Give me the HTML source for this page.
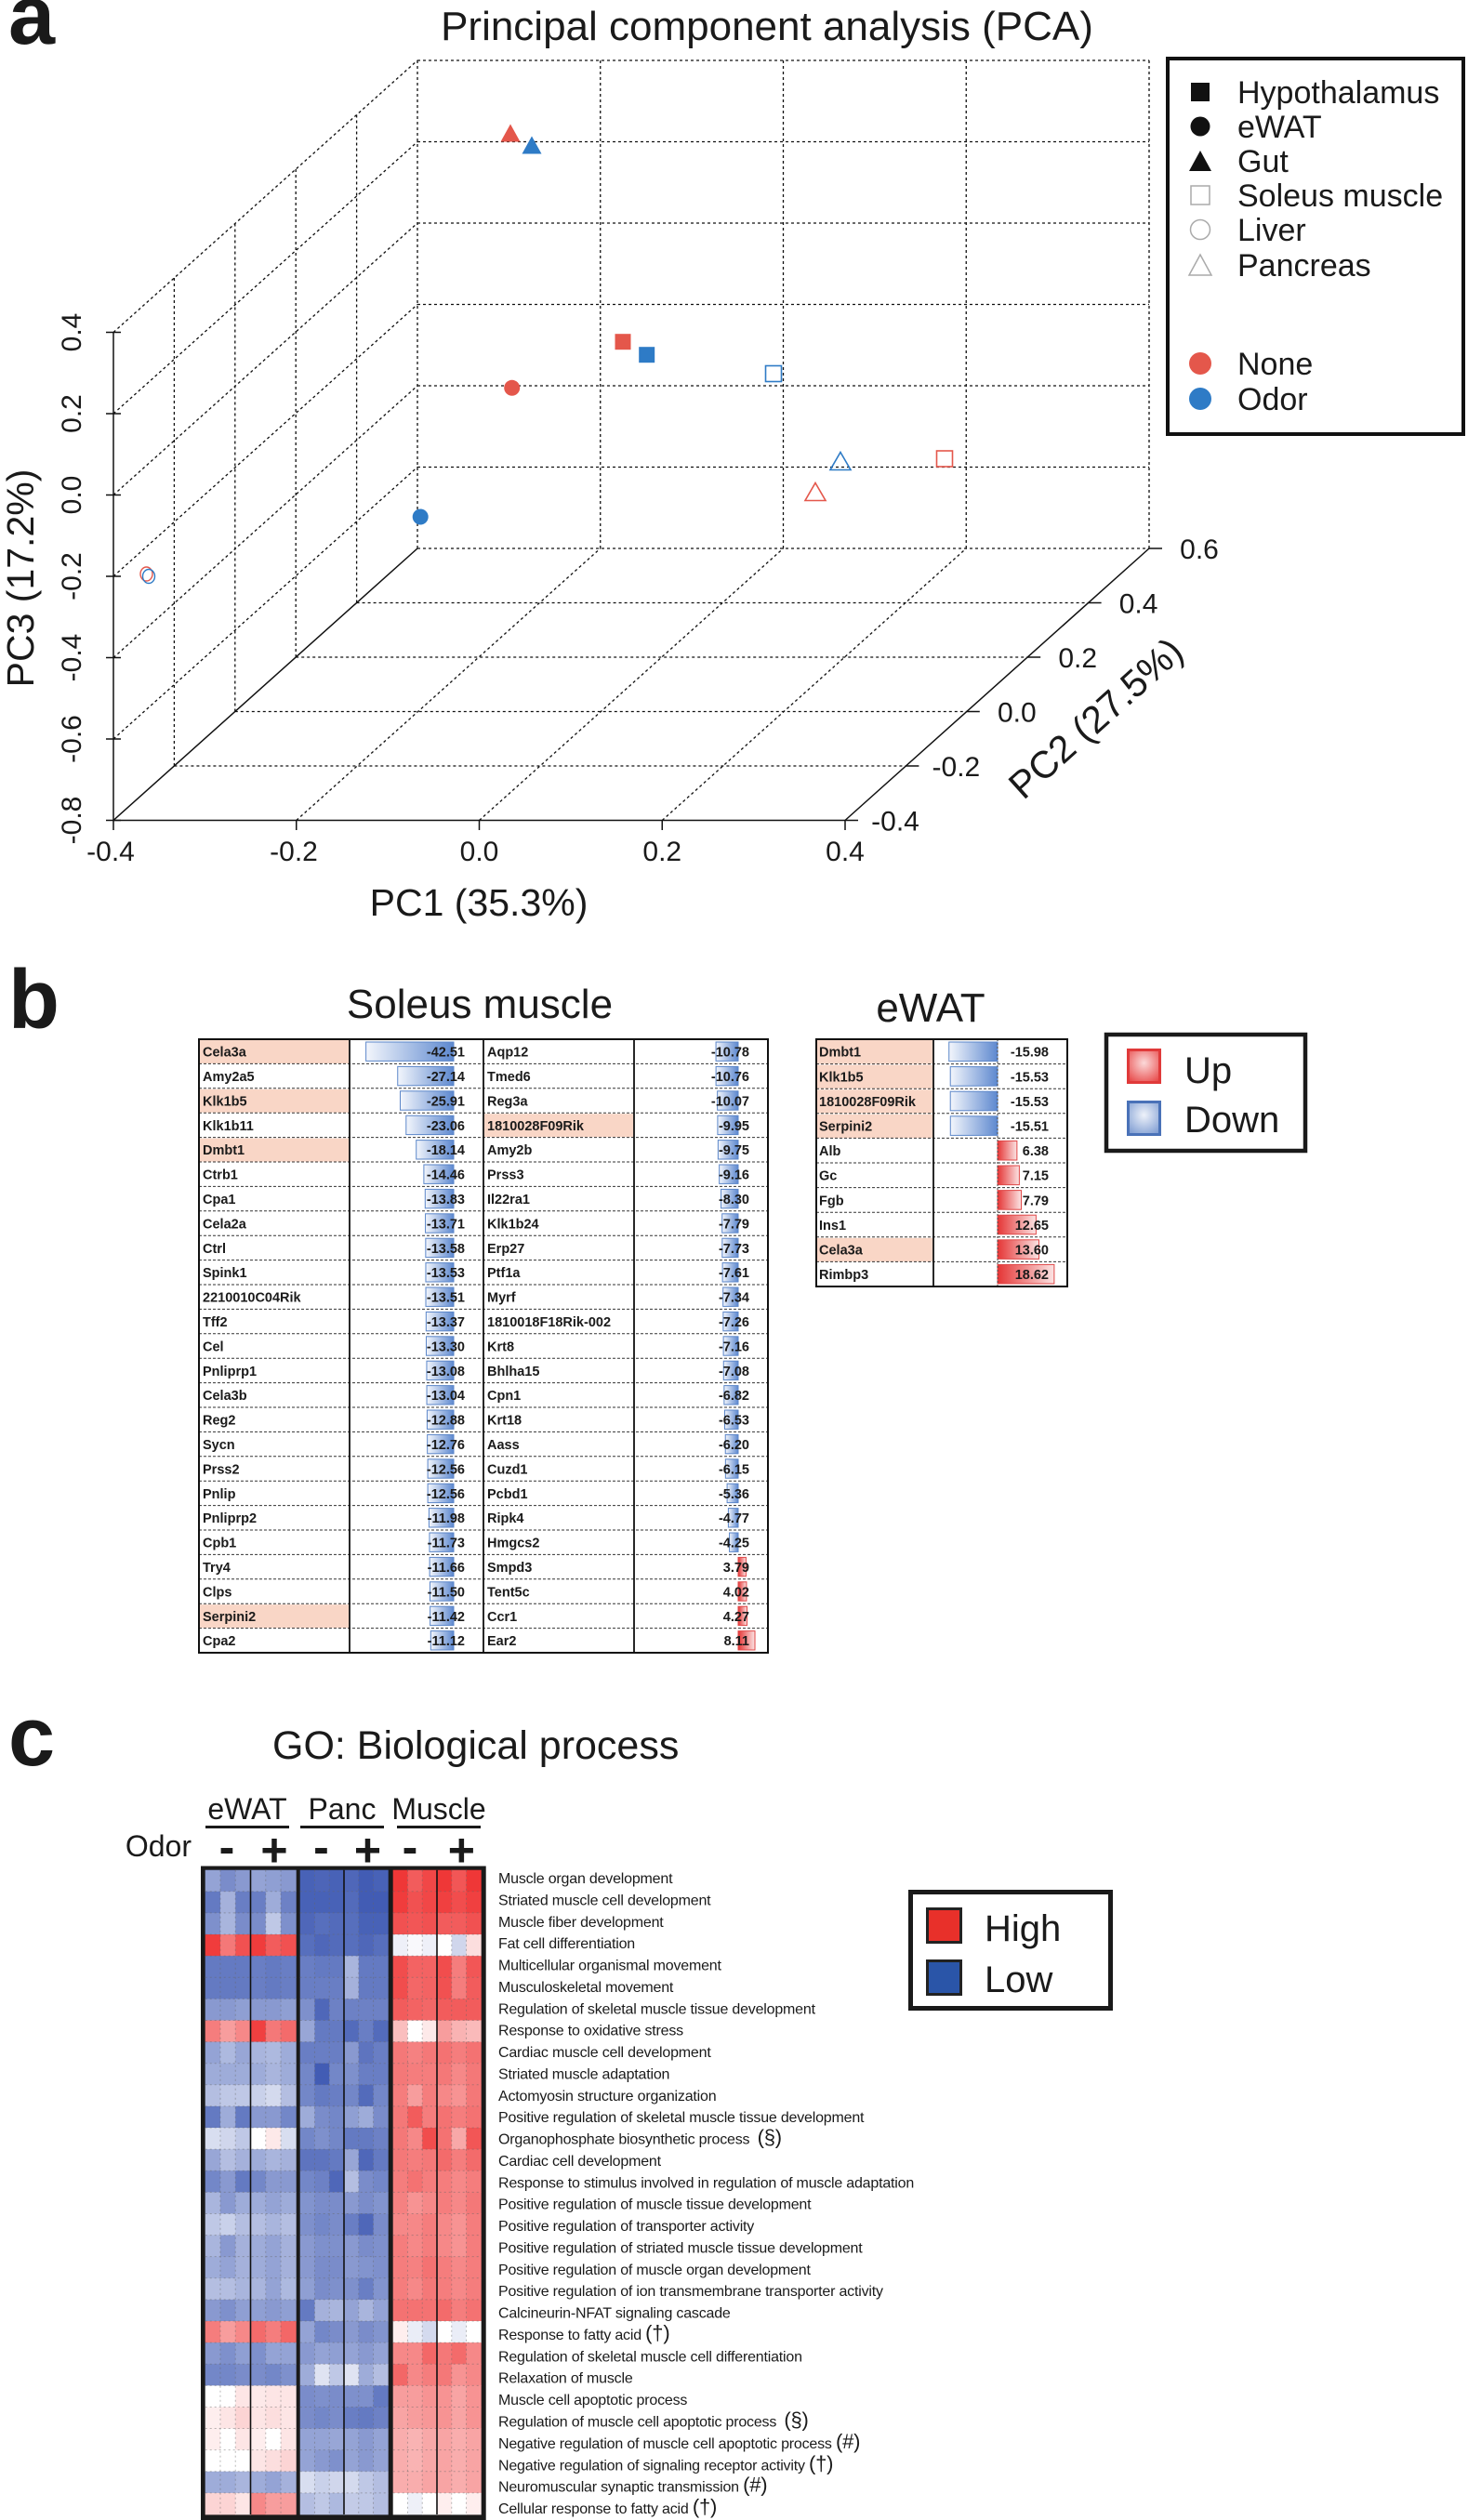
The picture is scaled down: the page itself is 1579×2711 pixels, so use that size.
<!DOCTYPE html>
<html><head><meta charset="utf-8"><style>
html,body{margin:0;padding:0;background:#fff}
svg{display:block}
text{font-family:"Liberation Sans",Arial,sans-serif;fill:#1a1a1a}
.d{stroke:#111;stroke-width:1.3;stroke-dasharray:3 3;fill:none}
.s{stroke:#111;stroke-width:1.5;fill:none}
.tk{font-size:30px}
.tb{font-size:14.5px;font-weight:bold}
.tv{font-size:14.5px;font-weight:bold;text-anchor:end}
.go{font-size:16px;letter-spacing:-0.2px;fill:#222}
.sym{font-size:22px}
</style></head><body>
<svg id="s" xmlns="http://www.w3.org/2000/svg" width="1579" height="2711" viewBox="0 0 1579 2711">
<defs>
<linearGradient id="gB" x1="0" x2="1" y1="0" y2="0"><stop offset="0" stop-color="#f3f6fc"/><stop offset="1" stop-color="#5d88cf"/></linearGradient>
<linearGradient id="gR" x1="0" x2="1" y1="0" y2="0"><stop offset="0" stop-color="#e53535"/><stop offset="1" stop-color="#fbe4e4"/></linearGradient>
<radialGradient id="rR" cx="0.5" cy="0.4" r="0.7"><stop offset="0" stop-color="#fbd9d9"/><stop offset="1" stop-color="#e84a4a"/></radialGradient>
<radialGradient id="rB" cx="0.5" cy="0.4" r="0.7"><stop offset="0" stop-color="#eef2fa"/><stop offset="1" stop-color="#7f9dd2"/></radialGradient>
</defs>
<rect width="1579" height="2711" fill="#fff"/>

<!-- ============ PANEL A ============ -->
<text x="9" y="47" style="font-size:90px;font-weight:bold">a</text>
<text x="825" y="43" text-anchor="middle" style="font-size:44px">Principal component analysis (PCA)</text>

<!-- back wall -->
<line class="d" x1="449" y1="65" x2="449" y2="590"/>
<line class="d" x1="645.75" y1="65" x2="645.75" y2="590"/>
<line class="d" x1="842.5" y1="65" x2="842.5" y2="590"/>
<line class="d" x1="1039.25" y1="65" x2="1039.25" y2="590"/>
<line class="d" x1="1236" y1="65" x2="1236" y2="590"/>
<line class="d" x1="449" y1="65" x2="1236" y2="65"/>
<line class="d" x1="449" y1="152.5" x2="1236" y2="152.5"/>
<line class="d" x1="449" y1="240" x2="1236" y2="240"/>
<line class="d" x1="449" y1="327.5" x2="1236" y2="327.5"/>
<line class="d" x1="449" y1="415" x2="1236" y2="415"/>
<line class="d" x1="449" y1="502.5" x2="1236" y2="502.5"/>
<line class="d" x1="449" y1="590" x2="1236" y2="590"/>
<!-- left wall -->
<line class="d" x1="187.4" y1="824" x2="187.4" y2="299"/>
<line class="d" x1="252.8" y1="765.5" x2="252.8" y2="240.5"/>
<line class="d" x1="318.2" y1="707" x2="318.2" y2="182"/>
<line class="d" x1="383.6" y1="648.5" x2="383.6" y2="123.5"/>
<line class="d" x1="122" y1="795" x2="449" y2="502.5"/>
<line class="d" x1="122" y1="707.5" x2="449" y2="415"/>
<line class="d" x1="122" y1="620" x2="449" y2="327.5"/>
<line class="d" x1="122" y1="532.5" x2="449" y2="240"/>
<line class="d" x1="122" y1="445" x2="449" y2="152.5"/>
<line class="d" x1="122" y1="357.5" x2="449" y2="65"/>
<!-- floor -->
<line class="d" x1="187.4" y1="824" x2="974.4" y2="824"/>
<line class="d" x1="252.8" y1="765.5" x2="1039.8" y2="765.5"/>
<line class="d" x1="318.2" y1="707" x2="1105.2" y2="707"/>
<line class="d" x1="383.6" y1="648.5" x2="1170.6" y2="648.5"/>
<line class="d" x1="318.75" y1="882.5" x2="645.75" y2="590"/>
<line class="d" x1="515.5" y1="882.5" x2="842.5" y2="590"/>
<line class="d" x1="712.25" y1="882.5" x2="1039.25" y2="590"/>
<!-- solid axes -->
<line class="s" x1="122" y1="357.5" x2="122" y2="882.5"/>
<line class="s" x1="122" y1="882.5" x2="909" y2="882.5"/>
<line class="s" x1="122" y1="882.5" x2="449" y2="590"/>
<line class="s" x1="909" y1="882.5" x2="1236" y2="590"/>
<!-- z ticks -->
<g class="s">
<line x1="114" y1="357.5" x2="130" y2="357.5"/><line x1="114" y1="445" x2="130" y2="445"/>
<line x1="114" y1="532.5" x2="130" y2="532.5"/><line x1="114" y1="620" x2="130" y2="620"/>
<line x1="114" y1="707.5" x2="130" y2="707.5"/><line x1="114" y1="795" x2="130" y2="795"/>
<line x1="114" y1="882.5" x2="130" y2="882.5"/>
<line x1="122" y1="882.5" x2="122" y2="893"/><line x1="318.75" y1="882.5" x2="318.75" y2="893"/>
<line x1="515.5" y1="882.5" x2="515.5" y2="893"/><line x1="712.25" y1="882.5" x2="712.25" y2="893"/>
<line x1="909" y1="882.5" x2="909" y2="893"/>
<line x1="909" y1="882.5" x2="923" y2="882.5"/><line x1="974.4" y1="824" x2="988.4" y2="824"/>
<line x1="1039.8" y1="765.5" x2="1053.8" y2="765.5"/><line x1="1105.2" y1="707" x2="1119.2" y2="707"/>
<line x1="1170.6" y1="648.5" x2="1184.6" y2="648.5"/><line x1="1236" y1="590" x2="1250" y2="590"/>
</g>
<!-- z tick labels -->
<g class="tk" text-anchor="middle">
<text transform="translate(87,357.5) rotate(-90)">0.4</text>
<text transform="translate(87,445) rotate(-90)">0.2</text>
<text transform="translate(87,532.5) rotate(-90)">0.0</text>
<text transform="translate(87,620) rotate(-90)">-0.2</text>
<text transform="translate(87,707.5) rotate(-90)">-0.4</text>
<text transform="translate(87,795) rotate(-90)">-0.6</text>
<text transform="translate(87,882.5) rotate(-90)">-0.8</text>
<text x="119" y="926">-0.4</text>
<text x="316" y="926">-0.2</text>
<text x="515.5" y="926">0.0</text>
<text x="712.25" y="926">0.2</text>
<text x="909" y="926">0.4</text>
<text x="963" y="893.5">-0.4</text>
<text x="1028.4" y="835">-0.2</text>
<text x="1093.8" y="776.5">0.0</text>
<text x="1159.2" y="718">0.2</text>
<text x="1224.6" y="659.5">0.4</text>
<text x="1290" y="601">0.6</text>
</g>
<text transform="translate(36,622) rotate(-90)" text-anchor="middle" style="font-size:41px">PC3 (17.2%)</text>
<text x="515" y="985" text-anchor="middle" style="font-size:41px">PC1 (35.3%)</text>
<text transform="translate(1188,783) rotate(-42)" text-anchor="middle" style="font-size:41px">PC2 (27.5%)</text>

<!-- data points -->
<polygon points="549,133.5 559.5,152.5 538.5,152.5" fill="#e4574b"/>
<polygon points="572,146.5 582.5,165.5 561.5,165.5" fill="#2e7bc6"/>
<rect x="661.5" y="359.2" width="17" height="17" fill="#e4574b"/>
<rect x="687.2" y="373.2" width="17" height="17" fill="#2e7bc6"/>
<circle cx="550.7" cy="417.3" r="8.5" fill="#e4574b"/>
<circle cx="452.2" cy="556" r="8.5" fill="#2e7bc6"/>
<rect x="823.5" y="393.5" width="17" height="17" fill="none" stroke="#2e7bc6" stroke-width="1.6"/>
<polygon points="904,486.5 915,505.5 893,505.5" fill="none" stroke="#2e7bc6" stroke-width="1.6"/>
<rect x="1007.5" y="485" width="17" height="17" fill="none" stroke="#e4574b" stroke-width="1.6"/>
<polygon points="877,519.5 888,538.5 866,538.5" fill="none" stroke="#e4574b" stroke-width="1.6"/>
<ellipse cx="157.5" cy="617.5" rx="6.5" ry="7.5" fill="none" stroke="#e4574b" stroke-width="1.4"/>
<ellipse cx="160" cy="620" rx="6.5" ry="7.5" fill="none" stroke="#2e7bc6" stroke-width="1.4"/>

<!-- legend a -->
<rect x="1256" y="63" width="318" height="404" fill="none" stroke="#111" stroke-width="4"/>
<rect x="1281" y="89" width="20" height="20" fill="#111"/>
<circle cx="1291" cy="136" r="10.5" fill="#111"/>
<polygon points="1291,162 1303,184 1279,184" fill="#111"/>
<rect x="1281" y="200" width="20" height="20" fill="none" stroke="#aaa" stroke-width="1.5"/>
<circle cx="1291" cy="247" r="10.5" fill="none" stroke="#aaa" stroke-width="1.5"/>
<polygon points="1291,274 1303,296 1279,296" fill="none" stroke="#aaa" stroke-width="1.5"/>
<circle cx="1291" cy="391" r="12" fill="#e4574b"/>
<circle cx="1291" cy="429" r="12" fill="#2e7bc6"/>
<g style="font-size:34px">
<text x="1331" y="111">Hypothalamus</text>
<text x="1331" y="148">eWAT</text>
<text x="1331" y="185">Gut</text>
<text x="1331" y="222">Soleus muscle</text>
<text x="1331" y="259">Liver</text>
<text x="1331" y="297">Pancreas</text>
<text x="1331" y="403">None</text>
<text x="1331" y="441">Odor</text>
</g>

<!-- ============ PANEL B ============ -->
<text x="9" y="1106" style="font-size:90px;font-weight:bold">b</text>
<text x="516" y="1095" text-anchor="middle" style="font-size:44px">Soleus muscle</text>
<text x="1001" y="1099" text-anchor="middle" style="font-size:44px">eWAT</text>

<!-- highlights -->
<g fill="#f9d6c6">
<rect x="215" y="1119" width="160" height="25"/>
<rect x="215" y="1171.8" width="160" height="25"/>
<rect x="215" y="1224.6" width="160" height="25"/>
<rect x="215" y="1726.2" width="160" height="25"/>
<rect x="521" y="1198.2" width="160" height="25"/>
<rect x="879" y="1119" width="124" height="25.5"/>
<rect x="879" y="1145.6" width="124" height="25.5"/>
<rect x="879" y="1172.2" width="124" height="25.5"/>
<rect x="879" y="1198.8" width="124" height="25.5"/>
<rect x="879" y="1331.8" width="124" height="25.5"/>
</g>
<g id="bars"></g>

<!-- Soleus rows -->
<g transform="translate(0,1118)"><text class="tb" x="218" y="18.6">Cela3a</text><text class="tv" x="500" y="18.6">-42.51</text><text class="tb" x="524" y="18.6">Aqp12</text><text class="tv" x="806" y="18.6">-10.78</text></g>
<g transform="translate(0,1144.4)"><text class="tb" x="218" y="18.6">Amy2a5</text><text class="tv" x="500" y="18.6">-27.14</text><text class="tb" x="524" y="18.6">Tmed6</text><text class="tv" x="806" y="18.6">-10.76</text></g>
<g transform="translate(0,1170.8)"><text class="tb" x="218" y="18.6">Klk1b5</text><text class="tv" x="500" y="18.6">-25.91</text><text class="tb" x="524" y="18.6">Reg3a</text><text class="tv" x="806" y="18.6">-10.07</text></g>
<g transform="translate(0,1197.2)"><text class="tb" x="218" y="18.6">Klk1b11</text><text class="tv" x="500" y="18.6">-23.06</text><text class="tb" x="524" y="18.6">1810028F09Rik</text><text class="tv" x="806" y="18.6">-9.95</text></g>
<g transform="translate(0,1223.6)"><text class="tb" x="218" y="18.6">Dmbt1</text><text class="tv" x="500" y="18.6">-18.14</text><text class="tb" x="524" y="18.6">Amy2b</text><text class="tv" x="806" y="18.6">-9.75</text></g>
<g transform="translate(0,1250)"><text class="tb" x="218" y="18.6">Ctrb1</text><text class="tv" x="500" y="18.6">-14.46</text><text class="tb" x="524" y="18.6">Prss3</text><text class="tv" x="806" y="18.6">-9.16</text></g>
<g transform="translate(0,1276.4)"><text class="tb" x="218" y="18.6">Cpa1</text><text class="tv" x="500" y="18.6">-13.83</text><text class="tb" x="524" y="18.6">Il22ra1</text><text class="tv" x="806" y="18.6">-8.30</text></g>
<g transform="translate(0,1302.8)"><text class="tb" x="218" y="18.6">Cela2a</text><text class="tv" x="500" y="18.6">-13.71</text><text class="tb" x="524" y="18.6">Klk1b24</text><text class="tv" x="806" y="18.6">-7.79</text></g>
<g transform="translate(0,1329.2)"><text class="tb" x="218" y="18.6">Ctrl</text><text class="tv" x="500" y="18.6">-13.58</text><text class="tb" x="524" y="18.6">Erp27</text><text class="tv" x="806" y="18.6">-7.73</text></g>
<g transform="translate(0,1355.6)"><text class="tb" x="218" y="18.6">Spink1</text><text class="tv" x="500" y="18.6">-13.53</text><text class="tb" x="524" y="18.6">Ptf1a</text><text class="tv" x="806" y="18.6">-7.61</text></g>
<g transform="translate(0,1382)"><text class="tb" x="218" y="18.6">2210010C04Rik</text><text class="tv" x="500" y="18.6">-13.51</text><text class="tb" x="524" y="18.6">Myrf</text><text class="tv" x="806" y="18.6">-7.34</text></g>
<g transform="translate(0,1408.4)"><text class="tb" x="218" y="18.6">Tff2</text><text class="tv" x="500" y="18.6">-13.37</text><text class="tb" x="524" y="18.6">1810018F18Rik-002</text><text class="tv" x="806" y="18.6">-7.26</text></g>
<g transform="translate(0,1434.8)"><text class="tb" x="218" y="18.6">Cel</text><text class="tv" x="500" y="18.6">-13.30</text><text class="tb" x="524" y="18.6">Krt8</text><text class="tv" x="806" y="18.6">-7.16</text></g>
<g transform="translate(0,1461.2)"><text class="tb" x="218" y="18.6">Pnliprp1</text><text class="tv" x="500" y="18.6">-13.08</text><text class="tb" x="524" y="18.6">Bhlha15</text><text class="tv" x="806" y="18.6">-7.08</text></g>
<g transform="translate(0,1487.6)"><text class="tb" x="218" y="18.6">Cela3b</text><text class="tv" x="500" y="18.6">-13.04</text><text class="tb" x="524" y="18.6">Cpn1</text><text class="tv" x="806" y="18.6">-6.82</text></g>
<g transform="translate(0,1514)"><text class="tb" x="218" y="18.6">Reg2</text><text class="tv" x="500" y="18.6">-12.88</text><text class="tb" x="524" y="18.6">Krt18</text><text class="tv" x="806" y="18.6">-6.53</text></g>
<g transform="translate(0,1540.4)"><text class="tb" x="218" y="18.6">Sycn</text><text class="tv" x="500" y="18.6">-12.76</text><text class="tb" x="524" y="18.6">Aass</text><text class="tv" x="806" y="18.6">-6.20</text></g>
<g transform="translate(0,1566.8)"><text class="tb" x="218" y="18.6">Prss2</text><text class="tv" x="500" y="18.6">-12.56</text><text class="tb" x="524" y="18.6">Cuzd1</text><text class="tv" x="806" y="18.6">-6.15</text></g>
<g transform="translate(0,1593.2)"><text class="tb" x="218" y="18.6">Pnlip</text><text class="tv" x="500" y="18.6">-12.56</text><text class="tb" x="524" y="18.6">Pcbd1</text><text class="tv" x="806" y="18.6">-5.36</text></g>
<g transform="translate(0,1619.6)"><text class="tb" x="218" y="18.6">Pnliprp2</text><text class="tv" x="500" y="18.6">-11.98</text><text class="tb" x="524" y="18.6">Ripk4</text><text class="tv" x="806" y="18.6">-4.77</text></g>
<g transform="translate(0,1646)"><text class="tb" x="218" y="18.6">Cpb1</text><text class="tv" x="500" y="18.6">-11.73</text><text class="tb" x="524" y="18.6">Hmgcs2</text><text class="tv" x="806" y="18.6">-4.25</text></g>
<g transform="translate(0,1672.4)"><text class="tb" x="218" y="18.6">Try4</text><text class="tv" x="500" y="18.6">-11.66</text><text class="tb" x="524" y="18.6">Smpd3</text><text class="tv" x="806" y="18.6">3.79</text></g>
<g transform="translate(0,1698.8)"><text class="tb" x="218" y="18.6">Clps</text><text class="tv" x="500" y="18.6">-11.50</text><text class="tb" x="524" y="18.6">Tent5c</text><text class="tv" x="806" y="18.6">4.02</text></g>
<g transform="translate(0,1725.2)"><text class="tb" x="218" y="18.6">Serpini2</text><text class="tv" x="500" y="18.6">-11.42</text><text class="tb" x="524" y="18.6">Ccr1</text><text class="tv" x="806" y="18.6">4.27</text></g>
<g transform="translate(0,1751.6)"><text class="tb" x="218" y="18.6">Cpa2</text><text class="tv" x="500" y="18.6">-11.12</text><text class="tb" x="524" y="18.6">Ear2</text><text class="tv" x="806" y="18.6">8.11</text></g>

<!-- eWAT rows -->
<g transform="translate(0,1118)"><text class="tb" x="881" y="18.7">Dmbt1</text><text class="tv" x="1128" y="18.7">-15.98</text></g>
<g transform="translate(0,1144.6)"><text class="tb" x="881" y="18.7">Klk1b5</text><text class="tv" x="1128" y="18.7">-15.53</text></g>
<g transform="translate(0,1171.2)"><text class="tb" x="881" y="18.7">1810028F09Rik</text><text class="tv" x="1128" y="18.7">-15.53</text></g>
<g transform="translate(0,1197.8)"><text class="tb" x="881" y="18.7">Serpini2</text><text class="tv" x="1128" y="18.7">-15.51</text></g>
<g transform="translate(0,1224.4)"><text class="tb" x="881" y="18.7">Alb</text><text class="tv" x="1128" y="18.7">6.38</text></g>
<g transform="translate(0,1251)"><text class="tb" x="881" y="18.7">Gc</text><text class="tv" x="1128" y="18.7">7.15</text></g>
<g transform="translate(0,1277.6)"><text class="tb" x="881" y="18.7">Fgb</text><text class="tv" x="1128" y="18.7">7.79</text></g>
<g transform="translate(0,1304.2)"><text class="tb" x="881" y="18.7">Ins1</text><text class="tv" x="1128" y="18.7">12.65</text></g>
<g transform="translate(0,1330.8)"><text class="tb" x="881" y="18.7">Cela3a</text><text class="tv" x="1128" y="18.7">13.60</text></g>
<g transform="translate(0,1357.4)"><text class="tb" x="881" y="18.7">Rimbp3</text><text class="tv" x="1128" y="18.7">18.62</text></g>

<!-- legend b -->
<rect x="1190" y="1113" width="214" height="125" fill="none" stroke="#1a1a1a" stroke-width="4.5"/>
<rect x="1213.5" y="1129.5" width="34" height="35" fill="url(#rR)" stroke="#e03a3a" stroke-width="3"/>
<rect x="1213.5" y="1185.5" width="34" height="35" fill="url(#rB)" stroke="#4a72b8" stroke-width="3"/>
<text x="1274" y="1165" style="font-size:40px">Up</text>
<text x="1274" y="1218" style="font-size:40px">Down</text>

<!-- ============ PANEL C ============ -->
<text x="9" y="1899" style="font-size:90px;font-weight:bold">c</text>
<text x="293" y="1892" style="font-size:43px">GO: Biological process</text>
<g style="font-size:32px" text-anchor="middle">
<text x="266" y="1957">eWAT</text>
<text x="368" y="1957">Panc</text>
<text x="472" y="1957">Muscle</text>
</g>
<rect x="221" y="1964" width="90" height="3" fill="#1a1a1a"/>
<rect x="323" y="1964" width="90" height="3" fill="#1a1a1a"/>
<rect x="427" y="1964" width="90" height="3" fill="#1a1a1a"/>
<text x="206" y="1997" text-anchor="end" style="font-size:32px">Odor</text>
<g style="font-size:50px;font-weight:bold" text-anchor="middle">
<text x="244" y="2004">-</text><text x="295" y="2007.5">+</text>
<text x="345.5" y="2004">-</text><text x="395.5" y="2007.5">+</text>
<text x="441" y="2004">-</text><text x="496.3" y="2007.5">+</text>
</g>
<rect x="216" y="2007.5" width="306.7" height="703.5" fill="#1a1a1a"/>
<g id="hm"></g>

<g class="go">
<text x="536" y="2026">Muscle organ development</text>
<text x="536" y="2049.4">Striated muscle cell development</text>
<text x="536" y="2072.8">Muscle fiber development</text>
<text x="536" y="2096.1">Fat cell differentiation</text>
<text x="536" y="2119.5">Multicellular organismal movement</text>
<text x="536" y="2142.9">Musculoskeletal movement</text>
<text x="536" y="2166.3">Regulation of skeletal muscle tissue development</text>
<text x="536" y="2189.7">Response to oxidative stress</text>
<text x="536" y="2213">Cardiac muscle cell development</text>
<text x="536" y="2236.4">Striated muscle adaptation</text>
<text x="536" y="2259.8">Actomyosin structure organization</text>
<text x="536" y="2283.2">Positive regulation of skeletal muscle tissue development</text>
<text x="536" y="2306.6">Organophosphate biosynthetic process <tspan class="sym" dx="4">(§)</tspan></text>
<text x="536" y="2329.9">Cardiac cell development</text>
<text x="536" y="2353.3">Response to stimulus involved in regulation of muscle adaptation</text>
<text x="536" y="2376.7">Positive regulation of muscle tissue development</text>
<text x="536" y="2400.1">Positive regulation of transporter activity</text>
<text x="536" y="2423.5">Positive regulation of striated muscle tissue development</text>
<text x="536" y="2446.8">Positive regulation of muscle organ development</text>
<text x="536" y="2470.2">Positive regulation of ion transmembrane transporter activity</text>
<text x="536" y="2493.6">Calcineurin-NFAT signaling cascade</text>
<text x="536" y="2517">Response to fatty acid <tspan class="sym">(†)</tspan></text>
<text x="536" y="2540.4">Regulation of skeletal muscle cell differentiation</text>
<text x="536" y="2563.7">Relaxation of muscle</text>
<text x="536" y="2587.1">Muscle cell apoptotic process</text>
<text x="536" y="2610.5">Regulation of muscle cell apoptotic process <tspan class="sym" dx="4">(§)</tspan></text>
<text x="536" y="2633.9">Negative regulation of muscle cell apoptotic process <tspan class="sym">(#)</tspan></text>
<text x="536" y="2657.3">Negative regulation of signaling receptor activity <tspan class="sym">(†)</tspan></text>
<text x="536" y="2680.6">Neuromuscular synaptic transmission <tspan class="sym">(#)</tspan></text>
<text x="536" y="2704">Cellular response to fatty acid <tspan class="sym">(†)</tspan></text>
</g>

<!-- legend c -->
<rect x="979.5" y="2035.5" width="215" height="125" fill="none" stroke="#1a1a1a" stroke-width="5"/>
<rect x="997.5" y="2053.5" width="36" height="36" fill="#e8302a" stroke="#222" stroke-width="3"/>
<rect x="997.5" y="2109.5" width="36" height="36" fill="#2a55a8" stroke="#222" stroke-width="3"/>
<text x="1059" y="2088" style="font-size:40px">High</text>
<text x="1059" y="2143" style="font-size:40px">Low</text>
</svg>
<script>
(function(){
var NS='http://www.w3.org/2000/svg';
function el(t,a,p){var e=document.createElementNS(NS,t);for(var k in a)e.setAttribute(k,a[k]);p.appendChild(e);return e;}
var B=document.getElementById('bars');
// Soleus bars
var v2=[-42.51,-27.14,-25.91,-23.06,-18.14,-14.46,-13.83,-13.71,-13.58,-13.53,-13.51,-13.37,-13.30,-13.08,-13.04,-12.88,-12.76,-12.56,-12.56,-11.98,-11.73,-11.66,-11.50,-11.42,-11.12];
var v4=[-10.78,-10.76,-10.07,-9.95,-9.75,-9.16,-8.30,-7.79,-7.73,-7.61,-7.34,-7.26,-7.16,-7.08,-6.82,-6.53,-6.20,-6.15,-5.36,-4.77,-4.25,3.79,4.02,4.27,8.11];
function bar(axis,v,sc,top,h){
  var w=Math.abs(v)*sc;
  if(v<0) el('rect',{x:axis-w,y:top,width:w,height:h,fill:'url(#gB)',stroke:'#5b86c9','stroke-width':1},B);
  else el('rect',{x:axis,y:top,width:w,height:h,fill:'url(#gR)',stroke:'#e04848','stroke-width':1},B);
}
var i;
for(i=0;i<25;i++){var t=1118+26.4*i;bar(488,v2[i],2.22,t+3,20.4);bar(794,v4[i],2.22,t+3,20.4);}
var ve=[-15.98,-15.53,-15.53,-15.51,6.38,7.15,7.79,12.65,13.60,18.62];
for(i=0;i<10;i++){bar(1073,ve[i],3.27,1118+26.6*i+3,20.6);}
// table lines
for(i=1;i<25;i++){var y=1118+26.4*i;el('line',{x1:214,y1:y,x2:826,y2:y,stroke:'#333','stroke-width':1,'stroke-dasharray':'3 2'},B);}
[376,520,682].forEach(function(x){el('line',{x1:x,y1:1118,x2:x,y2:1778,stroke:'#111','stroke-width':1.8},B);});
el('rect',{x:214,y:1118,width:612,height:660,fill:'none',stroke:'#111','stroke-width':2},B);
for(i=1;i<10;i++){var y2=1118+26.6*i;el('line',{x1:878,y1:y2,x2:1148,y2:y2,stroke:'#333','stroke-width':1,'stroke-dasharray':'3 2'},B);}
el('line',{x1:1073,y1:1118,x2:1073,y2:1384,stroke:'#444','stroke-width':1,'stroke-dasharray':'2 2'},B);
el('line',{x1:1004,y1:1118,x2:1004,y2:1384,stroke:'#111','stroke-width':1.8},B);
el('rect',{x:878,y:1118,width:270,height:266,fill:'none',stroke:'#111','stroke-width':2},B);

// heatmap
var H=[
[-.5,-.62,-.55,-.5,-.52,-.55,-.85,-.83,-.85,-.82,-.88,-.85,.92,.75,.85,.92,.78,.92],
[-.72,-.42,-.7,-.7,-.45,-.68,-.85,-.85,-.85,-.8,-.88,-.88,.9,.8,.85,.88,.82,.88],
[-.6,-.4,-.62,-.62,-.3,-.6,-.82,-.78,-.8,-.78,-.85,-.85,.8,.78,.8,.75,.75,.8],
[.9,.62,.8,.9,.75,.8,-.78,-.82,-.8,-.78,-.82,-.78,-.08,-.03,-.08,0,-.22,.15],
[-.72,-.72,-.72,-.7,-.72,-.7,-.7,-.72,-.72,-.4,-.72,-.72,.82,.72,.72,.82,.6,.78],
[-.72,-.72,-.72,-.7,-.72,-.7,-.7,-.7,-.7,-.42,-.72,-.72,.82,.7,.72,.8,.6,.75],
[-.55,-.55,-.52,-.55,-.55,-.52,-.6,-.82,-.68,-.68,-.68,-.68,.75,.72,.7,.75,.75,.75],
[.6,.45,.55,.88,.62,.68,-.48,-.72,-.72,-.8,-.7,-.8,.3,0,.1,.45,.35,.32],
[-.5,-.38,-.48,-.4,-.38,-.45,-.7,-.7,-.7,-.55,-.75,-.7,.62,.58,.62,.65,.6,.65],
[-.45,-.45,-.45,-.45,-.4,-.45,-.65,-.88,-.65,-.6,-.7,-.7,.62,.6,.6,.62,.55,.62],
[-.35,-.3,-.3,-.25,-.2,-.35,-.65,-.72,-.7,-.65,-.8,-.65,.6,.45,.6,.55,.5,.62],
[-.72,-.45,-.72,-.55,-.55,-.65,-.45,-.62,-.65,-.52,-.45,-.62,.62,.75,.6,.65,.6,.65],
[-.18,-.22,-.3,0,.1,-.18,-.65,-.6,-.65,-.72,-.72,-.68,.62,.55,.82,.65,.4,.78],
[-.48,-.35,-.42,-.45,-.4,-.42,-.75,-.75,-.72,-.48,-.82,-.72,.62,.6,.62,.68,.6,.68],
[-.65,-.55,-.72,-.65,-.55,-.55,-.65,-.68,-.82,-.35,-.62,-.65,.6,.65,.6,.6,.55,.6],
[-.4,-.55,-.45,-.45,-.5,-.45,-.58,-.62,-.62,-.55,-.62,-.58,.58,.5,.55,.6,.55,.62],
[-.3,-.25,-.35,-.35,-.4,-.35,-.6,-.65,-.62,-.7,-.82,-.62,.55,.55,.6,.55,.5,.6],
[-.4,-.55,-.42,-.45,-.5,-.42,-.55,-.6,-.6,-.55,-.62,-.6,.6,.55,.6,.55,.5,.6],
[-.45,-.5,-.42,-.45,-.5,-.42,-.55,-.62,-.62,-.55,-.58,-.6,.6,.58,.65,.6,.55,.6],
[-.35,-.35,-.4,-.4,-.5,-.38,-.52,-.62,-.6,-.6,-.7,-.58,.6,.55,.62,.6,.55,.6],
[-.55,-.6,-.52,-.52,-.55,-.52,-.72,-.42,-.4,-.5,-.4,-.5,.65,.65,.65,.68,.6,.65],
[.6,.45,.55,.68,.6,.7,-.5,-.65,-.62,-.55,-.62,-.58,.08,-.1,-.2,0,-.1,0],
[-.55,-.6,-.52,-.6,-.5,-.5,-.55,-.5,-.52,-.5,-.55,-.5,.55,.55,.7,.62,.68,.55],
[-.65,-.65,-.62,-.62,-.65,-.6,-.45,-.15,-.3,-.15,-.45,-.35,.7,.55,.6,.62,.5,.55],
[0,0,.12,.1,.12,.12,-.62,-.6,-.62,-.6,-.6,-.72,.45,.45,.5,.5,.42,.5],
[.08,.12,.2,.12,.15,.12,-.62,-.65,-.62,-.7,-.72,-.68,.42,.45,.48,.5,.42,.5],
[.08,0,.12,.08,0,.12,-.5,-.5,-.48,-.5,-.55,-.5,.38,.35,.4,.42,.38,.42],
[0,0,0,.12,.15,.2,-.5,-.55,-.6,-.5,-.55,-.5,.38,.35,.4,.42,.38,.42],
[-.45,-.45,-.4,-.45,-.5,-.42,-.18,-.25,-.22,-.2,-.3,-.35,.38,.38,.42,.42,.38,.42],
[.2,.2,.12,.55,.45,.45,-.35,-.3,-.38,-.28,-.3,-.35,0,-.08,0,.08,0,.08]];
function col(v){var r,g,b;if(v<0){var a=-v;r=255-a*215;g=255-a*185;b=255-a*85;}else{r=255-v*17;g=255-v*217;b=g;}
return 'rgb('+Math.round(r)+','+Math.round(g)+','+Math.round(b)+')';}
var M=document.getElementById('hm');
var bs=[220.7,322.7,422.7],be=[318.3,417.3,517.3];
var y0=2011.7,rh=23.11;
for(var r=0;r<30;r++){for(var bk=0;bk<3;bk++){var cw=(be[bk]-bs[bk])/6;for(var c=0;c<6;c++){
 el('rect',{x:(bs[bk]+c*cw).toFixed(2),y:(y0+r*rh).toFixed(2),width:(cw+0.4).toFixed(2),height:(rh+0.4).toFixed(2),fill:col(H[r][bk*6+c])},M);}}}
for(var bk2=0;bk2<3;bk2++){var cw2=(be[bk2]-bs[bk2])/6;
 for(r=1;r<30;r++){var yy=y0+r*rh;el('line',{x1:bs[bk2],y1:yy,x2:be[bk2],y2:yy,stroke:'#666','stroke-opacity':0.45,'stroke-width':1,'stroke-dasharray':'2 3'},M);}
 for(var c2=1;c2<6;c2++){var xx=bs[bk2]+c2*cw2;if(c2==3){el('line',{x1:xx,y1:y0,x2:xx,y2:2705,stroke:'#111','stroke-width':1.6},M);}else{el('line',{x1:xx,y1:y0,x2:xx,y2:2705,stroke:'#666','stroke-opacity':0.45,'stroke-width':1,'stroke-dasharray':'2 3'},M);}}
}
})();
</script>
</body></html>
